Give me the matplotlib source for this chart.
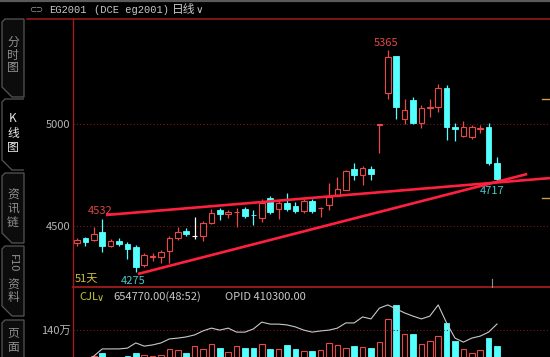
import numpy as np
import matplotlib
matplotlib.use("Agg")
import matplotlib.pyplot as plt
from matplotlib.patches import Polygon

plt.rcParams['font.family'] = ['Noto Sans CJK SC', 'DejaVu Sans']

# EG2001 daily bars, 51 days
opens  = [4417, 4441, 4431, 4471, 4402, 4426, 4412, 4397, 4309, 4348,
          4348, 4377, 4441, 4475, 4451, 4451, 4515, 4578, 4559, 4567,
          4583, 4556, 4539, 4637, 4583, 4613, 4598, 4574, 4623, 4586,
          4603, 4647, 4676, 4779, 4750, 4779, 4993, 5152, 5333, 5025,
          5118, 5005, 5081, 5083, 5176, 4985, 4941, 4936, 4978, 4985,
          4809]
highs  = [4441, 4446, 4495, 4532, 4436, 4441, 4422, 4407, 4368, 4368,
          4382, 4451, 4495, 4490, 4544, 4525, 4583, 4588, 4578, 4588,
          4593, 4578, 4632, 4647, 4623, 4662, 4618, 4632, 4632, 4593,
          4711, 4740, 4775, 4809, 4794, 4794, 4998, 5365, 5333, 5123,
          5132, 5093, 5123, 5196, 5191, 5005, 5015, 4995, 4995, 5005,
          4838]
lows   = [4402, 4402, 4428, 4373, 4397, 4402, 4338, 4275, 4299, 4328,
          4319, 4319, 4431, 4451, 4436, 4426, 4510, 4529, 4539, 4495,
          4539, 4505, 4520, 4559, 4534, 4574, 4564, 4564, 4564, 4544,
          4578, 4647, 4676, 4725, 4701, 4725, 4858, 5123, 5025, 5000,
          5000, 4980, 5034, 5059, 4922, 4917, 4936, 4926, 4956, 4799,
          4717]
closes = [4431, 4422, 4461, 4402, 4426, 4412, 4387, 4299, 4358, 4353,
          4373, 4441, 4471, 4461, 4451, 4515, 4564, 4559, 4569, 4569,
          4549, 4554, 4613, 4569, 4613, 4583, 4574, 4623, 4574, 4588,
          4642, 4681, 4770, 4750, 4784, 4755, 4998, 5328, 5083, 5069,
          5005, 5078, 5083, 5176, 4985, 4975, 4985, 4985, 4980, 4809,
          4730]
# volume, 万手
vols = [9, 5, 19, 33, 9, 9, 19, 33, 23, 19,
        23, 51, 47, 33, 65, 51, 75, 56, 37, 65,
        56, 56, 75, 51, 51, 72, 51, 42, 42, 47,
        79, 70, 56, 65, 61, 56, 84, 191, 257, 121,
        121, 75, 89, 112, 173, 89, 51, 33, 47, 103,
        65.5]
# open interest, thousand lots
opid = [310, 318, 330, 348, 348, 348, 350, 363, 355, 358,
        363, 373, 375, 378, 383, 393, 400, 395, 400, 390,
        390, 398, 415, 410, 410, 408, 403, 395, 390, 393,
        395, 400, 413, 413, 428, 423, 450, 458, 448, 438,
        430, 423, 430, 458, 413, 375, 365, 375, 380, 390,
        410.3]

# hand-drawn trend lines (bar index, price)
upper_x, upper_y = [3.45, 56.3], [4554, 4735]
lower_x, lower_y = [7.26, 53.6], [4265, 4755]

RED = '#e84848'
CYAN = '#54ffff'
AXRED = '#a01c1c'
GRAY = '#b4b4b4'
W, H = 550, 357
BW = 0.68


def rect(x0, y0, x1, y1):
    return [x0 / W, 1 - y1 / H, (x1 - x0) / W, (y1 - y0) / H]


fig = plt.figure(figsize=(5.5, 3.57), dpi=100, facecolor='black')
ax = fig.add_axes(rect(73, 19, 550, 287), facecolor='black')
axv = fig.add_axes(rect(73, 287, 550, 357), facecolor='black')
axo = axv.twinx()

o = np.array(opens); c = np.array(closes)
h = np.array(highs); l = np.array(lows)
x = np.arange(len(o))
cols = np.where(c > o, RED, np.where(c < o, CYAN, '#ffffff'))
up = c >= o

ax.vlines(x, l, h, colors=cols, lw=0.9, zorder=2)
bot = np.minimum(o, c)
hgt = np.maximum(np.abs(c - o), 1.5)
ax.bar(x[up], hgt[up], bottom=bot[up], width=BW, facecolor='black',
       edgecolor=cols[up], lw=0.8, zorder=3)
ax.bar(x[~up], hgt[~up], bottom=bot[~up], width=BW, facecolor=CYAN,
       edgecolor=CYAN, lw=0.6, zorder=3)

ax.plot(upper_x, upper_y, color='#ff2040', lw=1.9, zorder=4, solid_capstyle='butt')
ax.plot(lower_x, lower_y, color='#ff2040', lw=1.9, zorder=4, solid_capstyle='butt')

ax.set_xlim(-0.476, 56.31)
ax.set_ylim(4201, 5515)
ax.set_yticks([4500, 5000])
ax.set_xticks([])
ax.tick_params(axis='y', length=0, labelcolor=GRAY, labelsize=8, pad=2)
ax.grid(axis='y', color='#7a1a1a', linestyle=(0, (1, 2)), lw=0.8)
for s in ax.spines.values():
    s.set_visible(False)

# peak / trough labels
ih = int(np.argmax(h)); il = int(np.argmin(l))
ax.annotate(f'{highs[ih]}', (ih, highs[ih]), xytext=(-1.5, 5), textcoords='offset points',
            ha='center', va='center', color='#e04848', fontsize=8)
ax.annotate(f'{highs[3]}', (3, highs[3]), xytext=(-1.5, 6), textcoords='offset points',
            ha='center', va='center', color='#d84848', fontsize=8)
ax.annotate(f'{lows[il]}', (il, lows[il]), xytext=(-2, -6.5), textcoords='offset points',
            ha='center', va='center', color='#48c8c8', fontsize=8)
ax.annotate(f'{lows[-1]}', (len(l) - 1, lows[-1]), xytext=(-3.6, -6.5), textcoords='offset points',
            ha='center', va='center', color='#48c8c8', fontsize=8)

# volume panel
vols_a = np.array(vols)
axv.bar(x[up], vols_a[up], width=BW, facecolor='black', edgecolor=RED, lw=0.8)
axv.bar(x[~up], vols_a[~up], width=BW, facecolor=CYAN, edgecolor=CYAN, lw=0.6)
axv.set_xlim(-0.476, 56.31)
axv.set_ylim(14, 340.7)
axv.set_yticks([140])
axv.set_yticklabels(['140万'])
axv.set_xticks([])
axv.tick_params(axis='y', length=0, labelcolor=GRAY, labelsize=8, pad=2)
axv.grid(axis='y', color='#7a1a1a', linestyle=(0, (1, 2)), lw=0.8)
for s in axv.spines.values():
    s.set_visible(False)

axo.plot(x, opid, color='#c8c8c8', lw=0.8)
axo.set_ylim(327.8, 502.8)
axo.set_yticks([])
for s in axo.spines.values():
    s.set_visible(False)

# frame, header and side tabs
d = fig.add_axes([0, 0, 1, 1], zorder=10)
d.set_xlim(0, W)
d.set_ylim(H, 0)
d.axis('off')
d.patch.set_alpha(0)

d.plot([0, W], [0.8, 0.8], color='#5a5a5a', lw=1.6)
d.plot([27, W], [19, 19], color=AXRED, lw=1.1)
d.plot([73, 73], [19, H], color=AXRED, lw=1.0)
d.plot([73, W], [287, 287], color=AXRED, lw=1.3)
d.plot([542, W], [99, 99], color='#c8a040', lw=1.0)
d.plot([542, W], [198, 198], color='#c8a040', lw=1.0)
d.plot([492, 492], [279, 287], color='#909090', lw=0.8)

hdr = dict(color='#c8c8c8', fontsize=7.5, va='center',
           family=['Liberation Mono', 'Noto Sans CJK SC'])
d.text(29, 10, '⊂⊃', color='#a0a0a0', fontsize=6, va='center', family=['DejaVu Sans'])
d.text(49, 10, 'EG2001', **hdr)
d.text(94, 10, '(DCE eg2001)', **hdr)
d.text(172, 10, '日线', color='#c8c8c8', fontsize=8.5, va='center')
d.text(196, 10, '∨', color='#c8c8c8', fontsize=7.5, va='center', family=['DejaVu Sans'])

d.text(75, 279, '51天', color='#d0c040', fontsize=8, va='center')
d.text(79, 297, 'CJL', color='#c8c832', fontsize=8, va='center')
d.text(97, 298, '∨', color='#c8c832', fontsize=7, va='center', family=['DejaVu Sans'])
d.text(113, 297, '654770.00(48:52)', color='#c8c8c8', fontsize=8, va='center')
d.text(225, 297, 'OPID 410300.00', color='#c8c8c8', fontsize=8, va='center')

tabs = [(19, 97, False), (99, 170, True), (173, 243, False), (246, 316, False), (320, 372, False)]
for y0, y1, active in tabs:
    pts = [(24, y0), (5, y0), (2, y0 + 3), (2, y1 - 10), (12, y1), (24, y1)]
    d.add_patch(Polygon(pts, closed=not active, facecolor='black' if active else '#0c0c0c',
                        edgecolor='#555555', lw=0.9))

labels = [('分', 42), ('时', 55), ('图', 68), ('K', 118), ('线', 133), ('图', 147),
          ('资', 195), ('讯', 208), ('链', 222), ('资', 285), ('料', 298),
          ('页', 333), ('面', 348)]
for ch, yy in labels:
    col = '#e8e8e8' if 110 < yy < 160 else '#909090'
    d.text(13, yy, ch, color=col, fontsize=8.5, ha='center', va='center')
d.text(13, 263, 'F10', color='#909090', fontsize=8, ha='center', va='center', rotation=-90)

fig.savefig('out.png', dpi=100, facecolor='black')
